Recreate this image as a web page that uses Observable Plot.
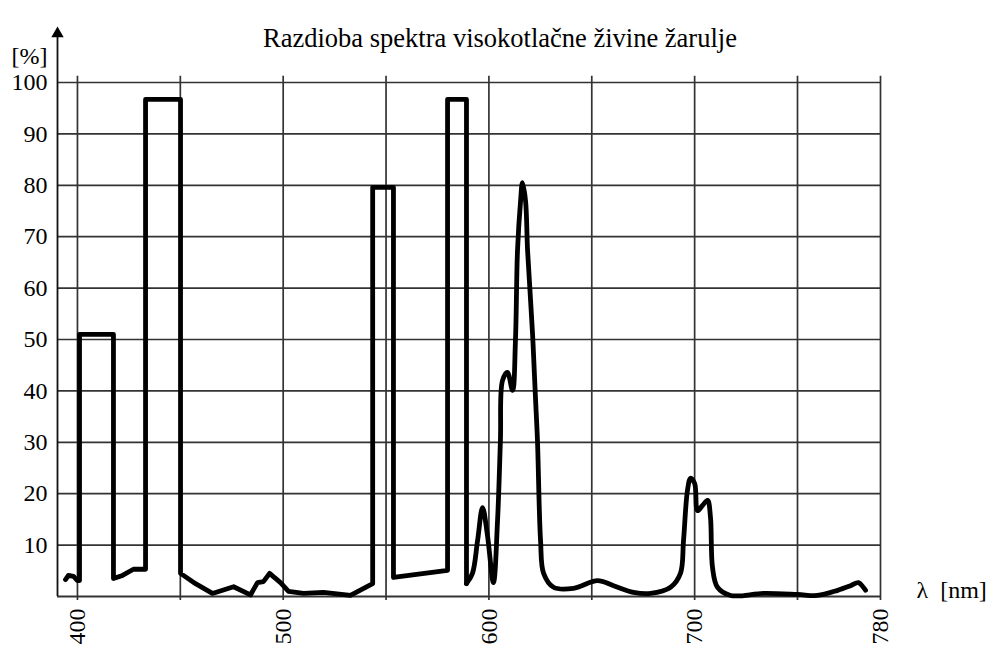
<!DOCTYPE html>
<html>
<head>
<meta charset="utf-8">
<script src="https://cdn.jsdelivr.net/npm/d3@7"></script>
<script src="https://cdn.jsdelivr.net/npm/@observablehq/plot@0.6"></script>
<style>
  html, body { margin: 0; padding: 0; background: #fff; }
  #chart svg { display: block; }
  #chart svg text { font-family: 'Liberation Serif', 'Times New Roman', serif; }
</style>
</head>
<body>
<div id="chart"></div>
<script>
// Spectrum of a high-pressure mercury lamp
const wavelength = [
  394.2, 395.6, 398.1, 400.0, 401.0, 401.0, 417.5, 417.5, 421.9, 427.2,
  433.1, 433.1, 450.1, 450.1, 457.4, 465.6, 475.9, 484.1, 487.5, 490.4,
  493.4, 498.7, 502.6, 509.9, 519.6, 532.7, 543.5, 543.5, 553.6, 553.6,
  579.9, 579.9, 589.1, 589.1, 592.0, 594.5, 596.9, 599.3, 602.2, 604.2,
  605.6, 606.6, 609.0, 611.5, 612.9, 613.9, 615.4, 616.3, 617.8, 618.8,
  621.2, 622.7, 623.6, 625.1, 626.6, 631.4, 641.1, 652.8, 660.6, 670.3,
  678.6, 688.3, 693.1, 694.6, 696.5, 698.0, 700.0, 701.4, 703.8, 706.3,
  707.7, 708.7, 711.1, 717.5, 733.5, 750.0, 757.2, 764.5, 769.2, 772.0,
  773.8, 774.6
];
const intensity = [
  3.3, 4.1, 3.9, 3.1, 3.1, 51.0, 51.0, 3.5, 4.1, 5.3,
  5.3, 96.7, 96.7, 4.5, 2.5, 0.6, 1.9, 0.3, 2.7, 2.9,
  4.5, 2.7, 1.0, 0.6, 0.8, 0.2, 2.5, 79.6, 79.6, 3.7,
  5.1, 96.7, 96.7, 2.5, 4.5, 10.9, 17.3, 11.9, 2.7, 14.8,
  30.4, 42.0, 43.6, 40.1, 49.8, 67.3, 77.0, 80.5, 77.0, 67.3,
  51.2, 38.1, 30.4, 10.9, 4.5, 1.8, 1.6, 3.1, 2.1, 0.8,
  0.6, 1.8, 4.5, 10.9, 20.6, 23.0, 22.0, 16.7, 17.7, 18.7,
  15.4, 5.6, 1.8, 0.2, 0.6, 0.4, 0.2, 1.2, 2.1, 2.7,
  1.8, 1.2
];
// index where the smooth (non-rectangular) part of the spectrum begins
const smoothFrom = 33;

const xTickValues = [400, 500, 600, 700, 780];
const xGridValues = [400, 450, 500, 550, 600, 650, 700, 750, 780];
const yTickValues = [10, 20, 30, 40, 50, 60, 70, 80, 90, 100];

const titleText = "Razdioba spektra visokotlačne živine žarulje";
const yUnit = "[%]";
const xUnit = "λ  [nm]";

const xStart = 390.3;   // wavelength at the y axis
const gridTop = 101.2;  // vertical grid lines reach a little above 100
const gridBottom = -0.8;
const axisTop = 109.5;

const data = wavelength.map((w, i) => ({w, v: intensity[i]}));
const stepPart = data.slice(0, smoothFrom + 1);
const smoothPart = data.slice(smoothFrom);

const gridColor = "#333";
const serif = "'Liberation Serif', 'Times New Roman', serif";

const chart = Plot.plot({
  width: 997,
  height: 648,
  marginLeft: 57,
  marginRight: 117,
  marginTop: 82,
  marginBottom: 52,
  style: {fontFamily: serif, fontSize: "24px", background: "#fff", color: "#000", overflow: "visible"},
  x: {type: "linear", domain: [xStart, 750, 780], range: [57, 797, 880]},
  y: {type: "linear", domain: [0, 100]},
  marks: [
    // horizontal grid
    Plot.ruleY(yTickValues, {x1: xStart, x2: 780, stroke: gridColor, strokeWidth: 1.7}),
    // vertical grid
    Plot.ruleX(xGridValues, {y1: gridBottom, y2: gridTop, stroke: gridColor, strokeWidth: 1.7}),
    // baseline
    Plot.ruleY([0], {x1: xStart, x2: 780, stroke: gridColor, strokeWidth: 1.9}),
    // y axis with arrow
    Plot.ruleX([xStart], {y1: 0, y2: axisTop, stroke: "#111", strokeWidth: 1.8}),
    Plot.dot([xStart], {x: d => d, y: axisTop, symbol: "triangle", r: 4.6, fill: "#000", stroke: "none"}),
    // spectrum
    Plot.line(stepPart, {x: "w", y: "v", stroke: "#000", strokeWidth: 4.8, strokeLinejoin: "round", strokeLinecap: "round"}),
    Plot.line(smoothPart, {x: "w", y: "v", curve: "catmull-rom", stroke: "#000", strokeWidth: 4.8, strokeLinejoin: "round", strokeLinecap: "round"}),
    // axes
    Plot.axisY(yTickValues, {tickSize: 0, tickPadding: 10, label: null, fontSize: 24, fontFamily: serif}),
    Plot.axisX(xTickValues, {tickSize: 0, tickPadding: 12, tickRotate: -90, label: null, fontSize: 24, fontFamily: serif}),
    // labels
    Plot.text([titleText], {frameAnchor: "top", dx: 31, dy: -54, fontSize: 26.5, fontFamily: serif, textAnchor: "middle"}),
    Plot.text([yUnit], {frameAnchor: "top-left", dx: -28, dy: -36, fontSize: 24, fontFamily: serif, textAnchor: "middle"}),
    Plot.text([xUnit], {frameAnchor: "bottom-right", dx: 36, dy: 1, fontSize: 24, fontFamily: serif, textAnchor: "start"})
  ]
});
document.getElementById("chart").appendChild(chart);
</script>
</body>
</html>
